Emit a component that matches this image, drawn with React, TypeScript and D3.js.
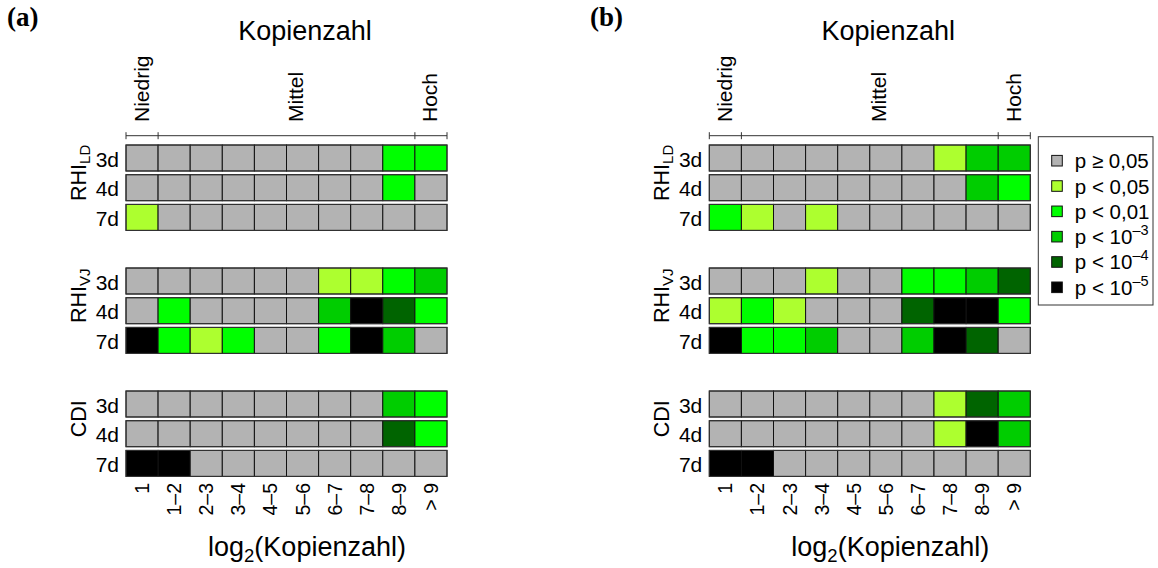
import React from "react";
import * as d3 from "d3";

// Copy-number classes (log2 bins) along the x axis
const columns = ["1", "1–2", "2–3", "3–4", "4–5", "5–6", "6–7", "7–8", "8–9", "> 9"];
const days = ["3d", "4d", "7d"];
const measures = [
  { key: "rhiLd", base: "RHI", sub: "LD" },
  { key: "rhiVj", base: "RHI", sub: "VJ" },
  { key: "cdi", base: "CDI", sub: "" },
];
const copyClasses = [
  { label: "Niedrig", from: 0, to: 1 },
  { label: "Mittel", from: 1, to: 9 },
  { label: "Hoch", from: 9, to: 10 },
];

// Significance level per cell: 0 = n.s., 1 = p<0.05, 2 = p<0.01, 3 = p<1e-3, 4 = p<1e-4, 5 = p<1e-5
const aRhiLd = [
  [0, 0, 0, 0, 0, 0, 0, 0, 2, 2],
  [0, 0, 0, 0, 0, 0, 0, 0, 2, 0],
  [1, 0, 0, 0, 0, 0, 0, 0, 0, 0],
];
const aRhiVj = [
  [0, 0, 0, 0, 0, 0, 1, 1, 2, 3],
  [0, 2, 0, 0, 0, 0, 3, 5, 4, 2],
  [5, 2, 1, 2, 0, 0, 2, 5, 3, 0],
];
const aCdi = [
  [0, 0, 0, 0, 0, 0, 0, 0, 3, 2],
  [0, 0, 0, 0, 0, 0, 0, 0, 4, 2],
  [5, 5, 0, 0, 0, 0, 0, 0, 0, 0],
];
const bRhiLd = [
  [0, 0, 0, 0, 0, 0, 0, 1, 3, 3],
  [0, 0, 0, 0, 0, 0, 0, 0, 3, 2],
  [2, 1, 0, 1, 0, 0, 0, 0, 0, 0],
];
const bRhiVj = [
  [0, 0, 0, 1, 0, 0, 2, 2, 3, 4],
  [1, 2, 1, 0, 0, 0, 4, 5, 5, 2],
  [5, 2, 2, 3, 0, 0, 3, 5, 4, 0],
];
const bCdi = [
  [0, 0, 0, 0, 0, 0, 0, 1, 4, 3],
  [0, 0, 0, 0, 0, 0, 0, 1, 5, 3],
  [5, 5, 0, 0, 0, 0, 0, 0, 0, 0],
];

const levels = [0, 1, 2, 3, 4, 5];
const levelText = [
  { main: "p ≥ 0,05", sup: "" },
  { main: "p < 0,05", sup: "" },
  { main: "p < 0,01", sup: "" },
  { main: "p < 10", sup: "–3" },
  { main: "p < 10", sup: "–4" },
  { main: "p < 10", sup: "–5" },
];

const palette = ["#b3b3b3", "#adff2f", "#00ff00", "#00cd00", "#006400", "#000000"];
const color = d3.scaleOrdinal<number, string>().domain(levels).range(palette);

const panels = [
  { tag: "(a)", data: { rhiLd: aRhiLd, rhiVj: aRhiVj, cdi: aCdi } as Record<string, number[][]> },
  { tag: "(b)", data: { rhiLd: bRhiLd, rhiVj: bRhiVj, cdi: bCdi } as Record<string, number[][]> },
];

// Layout
const W = 1158;
const H = 568;
const FONT = "'Liberation Sans', Arial, Helvetica, sans-serif";
const panelLeft = [126, 709.3];
const gridWidth = 321;
const tagX = [7, 590];
const groupTop = 145;
const groupStep = 123;
const rowStep = 29.7;
const cellH = 26;
const classLabelNudge: Record<string, number> = { Mittel: 10 };

function Panel({ index }: { index: number }) {
  const p = panels[index];
  const x0 = panelLeft[index];
  const x = d3.scaleBand<string>().domain(columns).range([x0, x0 + gridWidth]);
  const unit = d3.scaleLinear().domain([0, columns.length]).range([x0, x0 + gridWidth]);
  const yGroup = d3
    .scaleBand<string>()
    .domain(measures.map((m) => m.key))
    .range([groupTop, groupTop + groupStep * measures.length]);
  const yRow = d3
    .scaleBand<string>()
    .domain(days)
    .range([0, rowStep * days.length - (rowStep - cellH)])
    .paddingInner((rowStep - cellH) / rowStep);
  const bw = x.bandwidth();
  const bracketY = 135.7;

  return (
    <g>
      <text x={tagX[index]} y={26} fontFamily="'Liberation Serif', 'DejaVu Serif', serif" fontWeight="bold" fontSize={27}>
        {p.tag}
      </text>
      <text x={x0 + 179} y={40} textAnchor="middle" fontFamily={FONT} fontSize={27}>
        Kopienzahl
      </text>

      {/* copy-number class labels and bracket */}
      {copyClasses.map((c) => {
        const cx = (unit(c.from) + unit(c.to)) / 2 + (classLabelNudge[c.label] || 0);
        return (
          <text
            key={c.label}
            transform={`translate(${cx + 6.5},122) rotate(-90)`}
            fontFamily={FONT}
            fontSize={21}
          >
            {c.label}
          </text>
        );
      })}
      <line x1={unit(0)} x2={unit(columns.length)} y1={bracketY} y2={bracketY} stroke="#333" strokeWidth={1} />
      {[0, 1, 9, 10].map((t) => (
        <line key={t} x1={unit(t)} x2={unit(t)} y1={bracketY - 3.5} y2={bracketY + 3.5} stroke="#333" strokeWidth={1} />
      ))}

      {measures.map((m) => {
        const gy = yGroup(m.key)!;
        const rows = p.data[m.key];
        const labelY = gy + (yRow(days[0])! + yRow(days[1])! + cellH) / 2;
        return (
          <g key={m.key}>
            <text
              transform={`translate(${x0 - 40},${labelY}) rotate(-90)`}
              textAnchor="middle"
              fontFamily={FONT}
              fontSize={21.5}
            >
              {m.base}
              {m.sub && (
                <tspan fontSize={15} dy={4}>
                  {m.sub}
                </tspan>
              )}
            </text>
            {days.map((d, ri) => {
              const ry = gy + yRow(d)!;
              return (
                <g key={d}>
                  <text x={x0 - 7} y={ry + cellH / 2 + 8.5} textAnchor="end" fontFamily={FONT} fontSize={21}>
                    {d}
                  </text>
                  {columns.map((c, ci) => (
                    <rect
                      key={c}
                      x={x(c)}
                      y={ry}
                      width={bw}
                      height={cellH}
                      fill={color(rows[ri][ci])}
                      stroke="#111"
                      strokeWidth={1}
                    />
                  ))}
                  <rect x={x0} y={ry} width={gridWidth} height={cellH} fill="none" stroke="#333" strokeWidth={1} />
                </g>
              );
            })}
          </g>
        );
      })}

      {/* x tick labels */}
      {columns.map((c) => (
        <text
          key={c}
          transform={`translate(${x(c)! + bw / 2 + 7},483) rotate(-90)`}
          textAnchor="end"
          fontFamily={FONT}
          fontSize={19.5}
        >
          {c}
        </text>
      ))}
      <text x={x0 + 181} y={556} textAnchor="middle" fontFamily={FONT} fontSize={27}>
        log
        <tspan fontSize={18.5} dy={6}>
          2
        </tspan>
        <tspan dy={-6}>(Kopienzahl)</tspan>
      </text>
    </g>
  );
}

function Legend() {
  const left = 1038.3;
  const top = 136.7;
  const y = d3.scaleLinear().domain([0, levels.length - 1]).range([top + 24, top + 150.6]);
  return (
    <g>
      <rect x={left} y={top} width={114.7} height={168.3} fill="#fff" stroke="#333" strokeWidth={1} />
      {levels.map((l, i) => (
        <g key={l}>
          <rect x={left + 13.4} y={y(i) - 5.3} width={10.6} height={10.6} fill={color(l)} stroke="#111" strokeWidth={1} />
          <text x={left + 36.5} y={y(i) + 7.5} fontFamily={FONT} fontSize={20.5}>
            {levelText[i].main}
            {levelText[i].sup && (
              <tspan fontSize={14.5} dy={-9}>
                {levelText[i].sup}
              </tspan>
            )}
          </text>
        </g>
      ))}
    </g>
  );
}

export default function App() {
  return (
    <svg
      width={W}
      height={H}
      viewBox={`0 0 ${W} ${H}`}
      style={{ position: "absolute", left: 0, top: 0, background: "#fff" }}
    >
      <rect width={W} height={H} fill="#fff" />
      <Panel index={0} />
      <Panel index={1} />
      <Legend />
    </svg>
  );
}
